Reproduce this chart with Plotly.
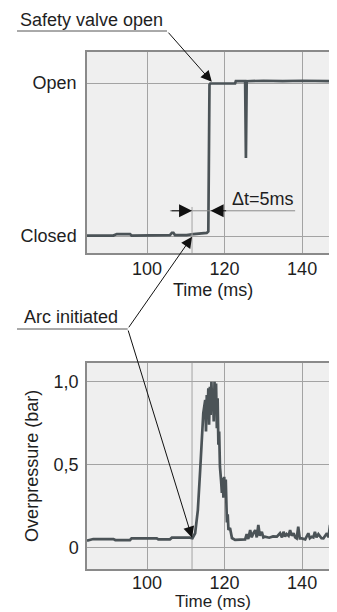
import plotly.graph_objects as go

# ---------------- data ----------------
valve_time = [84.4, 91.3, 92.2, 95.6, 96.0, 99.9, 105.9, 106.4, 106.8, 107.2, 110.2, 112.0,
              115.4, 115.8, 116.0, 115.9, 116.1, 116.3, 116.7, 122.7, 122.9, 125.3, 125.5,
              125.7, 130.0, 135.0, 140.0, 145.0, 149.2]
valve_state = [0.003, 0.003, 0.013, 0.013, 0.003, 0.003, 0.006, 0.02, 0.02, 0.006, 0.006, 0.013,
               0.02, 0.03, 0.90, 0.75, 0.99, 0.997, 0.997, 0.997, 1.012, 1.012, 0.51,
               1.012, 1.015, 1.012, 1.015, 1.012, 1.012]

press_time = [84.5, 86.1, 91.3, 91.8, 95.6, 96.0, 102.5, 102.9, 105.9, 106.4, 111.0, 111.7,
              112.4, 113.1, 113.7, 114.1, 114.5, 115.0,
              115.2, 115.4, 115.6, 115.8, 116.0, 116.2, 116.4, 116.6, 116.8, 117.0, 117.2,
              117.4, 117.6, 117.8, 118.0, 118.2, 118.4, 118.6, 118.8, 119.1, 119.3, 119.5,
              119.7, 119.9, 120.1, 120.3, 120.6, 120.8, 121.0, 121.4, 121.9, 122.7,
              125.3, 125.7, 126.1, 126.6, 127.0, 127.4, 127.9, 128.3, 128.7, 129.1, 129.6,
              130.0, 130.4, 131.5, 132.5, 133.5, 134.3, 134.8, 135.2, 135.6, 136.0, 136.5,
              136.9, 137.3, 137.8, 138.2, 138.6, 139.0, 139.4, 139.9, 140.8, 141.6, 142.0,
              142.5, 142.9, 143.3, 143.7, 144.2, 145.0, 145.5, 146.0, 146.4, 146.8, 147.2,
              147.6, 148.1, 148.5, 148.9, 149.2]
press_bar = [0.040, 0.050, 0.050, 0.044, 0.044, 0.054, 0.054, 0.048, 0.048, 0.058, 0.058, 0.055,
             0.085, 0.225, 0.467, 0.668, 0.81, 0.89,
             0.70, 0.92, 0.78, 0.96, 0.74, 0.97, 0.80, 1.00, 0.85, 0.93, 0.76,
             1.00, 0.82, 0.99, 0.72, 0.90, 0.62, 0.70, 0.487, 0.40, 0.328, 0.42,
             0.30, 0.426, 0.33, 0.41, 0.15, 0.20, 0.105, 0.117, 0.056, 0.045,
             0.048, 0.080, 0.050, 0.104, 0.060, 0.085, 0.104, 0.060, 0.135, 0.070, 0.094,
             0.060, 0.064, 0.058, 0.066, 0.064, 0.085, 0.060, 0.094, 0.065, 0.080, 0.070,
             0.104, 0.070, 0.085, 0.060, 0.054, 0.124, 0.054, 0.054, 0.048, 0.085, 0.055,
             0.064, 0.060, 0.094, 0.060, 0.080, 0.055, 0.054, 0.070, 0.085, 0.060, 0.135,
             0.070, 0.104, 0.070, 0.085, 0.090]

time_ticks = [100, 120, 140]
valve_tick_vals = [0, 1]
valve_tick_text = ["Closed", "Open"]
press_tick_vals = [0, 0.5, 1.0]
press_tick_text = ["0", "0,5", "1,0"]
arc_time = 111.6
valve_open_time = 116.7

# ---------------- style ----------------
FONT = "Liberation Sans, Arial, sans-serif"
TXT = "#1e1e1e"
TRACE = "#4b5357"
GRID = "#a3a3a3"
AXIS = "#8a8a8a"
BG = "#efefef"

fig = go.Figure()
fig.add_trace(go.Scatter(x=valve_time, y=valve_state, mode="lines",
                         line=dict(color=TRACE, width=2.7), xaxis="x", yaxis="y",
                         showlegend=False, hoverinfo="skip"))
fig.add_trace(go.Scatter(x=press_time, y=press_bar, mode="lines",
                         line=dict(color=TRACE, width=2.7), xaxis="x2", yaxis="y2",
                         showlegend=False, hoverinfo="skip"))

xcommon = dict(range=[84.5, 149.0], tickvals=time_ticks, showgrid=True, gridcolor=GRID,
               gridwidth=1, zeroline=False, showline=True, linecolor=AXIS, linewidth=1.5,
               mirror=True, ticks="", tickfont=dict(size=18, color=TXT, family=FONT),
               automargin=False)

def px2py(py):
    return (569 - py) / 517

def px2px(px):
    return (px - 87) / 250

# the page body adds an 8 px offset, so the figure is 8 px smaller and margins shifted
fig.update_layout(
    width=329, height=604,
    margin=dict(l=79, r=0, t=44, b=43, autoexpand=False),
    paper_bgcolor="white", plot_bgcolor=BG,
    font=dict(family=FONT, size=18, color=TXT),
    xaxis=dict(anchor="y", ticklabelstandoff=-1, **xcommon),
    xaxis2=dict(anchor="y2", ticklabelstandoff=-3, **xcommon),
    yaxis=dict(domain=[0.6112, 1.0], range=[-0.111, 1.203], tickvals=valve_tick_vals,
               ticktext=valve_tick_text, showgrid=True, gridcolor=GRID, zeroline=False,
               showline=True, linecolor=AXIS, linewidth=1.5, ticks="", ticklabelstandoff=5,
               automargin=False, tickfont=dict(size=18, color=TXT, family=FONT)),
    yaxis2=dict(domain=[0.0, 0.399], range=[-0.131, 1.115], tickvals=press_tick_vals,
                ticktext=press_tick_text, showgrid=True, gridcolor=GRID, zeroline=False,
                showline=True, linecolor=AXIS, linewidth=1.5, ticks="", ticklabelstandoff=3,
                automargin=False, tickfont=dict(size=18, color=TXT, family=FONT),
                title=dict(text="Overpressure (bar)", font=dict(size=18, color=TXT, family=FONT),
                           standoff=10)),
)

shapes = [
    dict(type="line", xref="paper", yref="paper", x0=px2px(17), x1=px2px(167),
         y0=px2py(31), y1=px2py(31), line=dict(color="#555555", width=1)),
    dict(type="line", xref="paper", yref="paper", x0=px2px(17), x1=px2px(127.7),
         y0=px2py(329), y1=px2py(329), line=dict(color="#555555", width=1)),
    dict(type="line", xref="x", yref="y", x0=105.9, x1=138.2, y0=0.165, y1=0.165,
         line=dict(color="#8a8a8a", width=1)),
    dict(type="line", xref="x", yref="y", x0=arc_time, x1=arc_time, y0=0.19, y1=-0.111,
         line=dict(color=GRID, width=1)),
    dict(type="line", xref="x2", yref="y2 domain", x0=arc_time, x1=arc_time, y0=0, y1=1,
         line=dict(color=GRID, width=1), layer="below"),
]
fig.update_layout(shapes=shapes)

arrow = dict(showarrow=True, arrowhead=2, arrowsize=2.2, arrowwidth=1, arrowcolor="#111111",
             text="", standoff=0, startstandoff=0, axref="pixel", ayref="pixel")
tfont = dict(size=18, color=TXT, family=FONT)
annotations = [
    dict(x=valve_open_time, y=1.008, xref="x", yref="y", ax=-44.7, ay=-50.7, **arrow),
    dict(x=arc_time, y=-0.005, xref="x", yref="y", ax=-64.3, ay=92, **arrow),
    dict(x=arc_time, y=0.058, xref="x2", yref="y2", ax=-64.3, ay=-208.7, **arrow),
    dict(x=arc_time, y=0.165, xref="x", yref="y", ax=-22, ay=0,
         **{**arrow, "arrowsize": 2.6}),
    dict(x=116.4, y=0.165, xref="x", yref="y", ax=17, ay=0,
         **{**arrow, "arrowsize": 2.6}),
    dict(x=px2px(18), y=px2py(20), xref="paper", yref="paper", text="Safety valve open",
         showarrow=False, xanchor="left", yanchor="middle", font=tfont),
    dict(x=px2px(22), y=px2py(317), xref="paper", yref="paper", text="Arc initiated",
         showarrow=False, xanchor="left", yanchor="middle", font=tfont),
    dict(x=121.4, y=0.165, xref="x", yref="y", text="Δt=5ms", showarrow=False,
         xanchor="left", yanchor="bottom", font=tfont),
    # x-axis titles
    dict(x=117.0, y=px2py(290), xref="x", yref="paper", text="Time (ms)", showarrow=False,
         xanchor="center", yanchor="middle", font=tfont, borderpad=0),
    dict(x=117.0, y=px2py(611.8), xref="x2", yref="paper", text="Time (ms)", showarrow=False,
         xanchor="center", yanchor="bottom", font=dict(size=17, color=TXT, family=FONT),
         borderpad=0),
]
fig.update_layout(annotations=annotations)

fig.write_html("out.html")
